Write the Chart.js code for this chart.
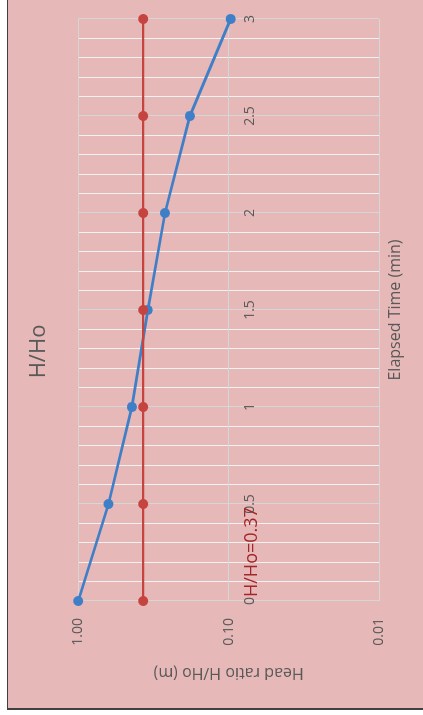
<!DOCTYPE html>
<html>
<head>
<meta charset="utf-8">
<script src="https://cdn.jsdelivr.net/npm/chart.js@4.4.1/dist/chart.umd.min.js"></script>
<style>
  html, body { margin: 0; padding: 0; overflow: hidden; background: #fff; }
  /* chart is drawn upright, then turned a quarter to the left like the reference */
  #turn {
    position: absolute; left: 0; top: 715px;
    width: 715px; height: 423px;
    transform-origin: 0 0; transform: rotate(-90deg);
  }
</style>
</head>
<body>
<div id="turn"><canvas id="headChart" width="715" height="423"></canvas></div>
<script>
// ---- data ----
const elapsedMin  = [0, 0.5, 1, 1.5, 2, 2.5, 3];
const headRatio   = [1.00, 0.63, 0.44, 0.345, 0.265, 0.181, 0.097];
const targetRatio = [0.37, 0.37, 0.37, 0.37, 0.37, 0.37, 0.37];
const targetLabel = 'H/Ho=0.37';
const ratioTicks  = [0.01, 0.1, 1];
const timeTicks   = [0, 0.5, 1, 1.5, 2, 2.5, 3];

const blue  = '#3F7FC8';
const red   = '#C5443F';
const grey  = '#595959';
const pink  = '#E6B8B7';

Chart.defaults.font.family = '"Open Sans", sans-serif';
Chart.defaults.color = grey;

const isLabelled = v => timeTicks.some(t => Math.abs(t - v) < 1e-6);

// pink plot background with the dark frame edge (top/left only show in the crop)
const frame = {
  id: 'frame',
  beforeDraw(chart) {
    const { ctx, width, height } = chart;
    ctx.save();
    ctx.fillStyle = '#fff';
    ctx.fillRect(0, 0, width, height);
    ctx.fillStyle = pink;
    ctx.fillRect(7, 8, width, height);
    ctx.fillStyle = '#404040';
    ctx.fillRect(5, 7, 2, height);
    ctx.fillRect(5, 7, width, 1);
    ctx.restore();
  }
};

// the red "H/Ho=0.37" text box
const noteText = {
  id: 'noteText',
  afterDraw(chart) {
    const { ctx, scales: { x, y } } = chart;
    ctx.save();
    ctx.font = '18px "Open Sans", sans-serif';
    ctx.fillStyle = '#A3262A';
    ctx.textBaseline = 'alphabetic';
    ctx.fillText(targetLabel, x.getPixelForValue(elapsedMin[0]) + 4, y.getPixelForValue(ratioTicks[1]) + 28);
    ctx.restore();
  }
};

new Chart(document.getElementById('headChart'), {
  type: 'line',
  data: {
    datasets: [
      {
        label: 'Target',
        data: elapsedMin.map((t, i) => ({ x: t, y: targetRatio[i] })),
        borderColor: red,
        backgroundColor: red,
        borderWidth: 2.25,
        pointRadius: 5,
        pointBorderWidth: 0,
        tension: 0,
        clip: false
      },
      {
        label: 'H/Ho',
        data: elapsedMin.map((t, i) => ({ x: t, y: headRatio[i] })),
        borderColor: blue,
        backgroundColor: blue,
        borderWidth: 2.75,
        pointRadius: 5,
        pointBorderWidth: 0,
        tension: 0,
        clip: false
      }
    ]
  },
  options: {
    responsive: false,
    animation: false,
    layout: { padding: { left: 31, right: 19, top: 0, bottom: 0 } },
    plugins: {
      legend: { display: false },
      tooltip: { enabled: false },
      title: {
        display: true,
        text: 'H/Ho',
        color: grey,
        font: { size: 22, weight: 'normal' },
        padding: { top: 25.8, bottom: 26.1 }
      }
    },
    scales: {
      x: {
        type: 'linear',
        min: 0,
        max: 3,
        position: { y: 0.1 },
        border: { display: false },
        grid: {
          drawTicks: false,
          lineWidth: 1,
          color: ctx => (ctx.tick && isLabelled(ctx.tick.value)) ? '#D6D6D6' : '#F2F2F2'
        },
        ticks: {
          stepSize: 0.1,
          autoSkip: false,
          maxRotation: 0,
          minRotation: 0,
          padding: 13,
          font: { size: 14 },
          callback: v => isLabelled(v) ? String(Math.round(v * 10) / 10) : ''
        }
      },
      xTitle: {
        type: 'linear',
        position: 'bottom',
        min: 0,
        max: 3,
        border: { display: false },
        grid: { display: false, drawTicks: false },
        ticks: { display: false },
        title: {
          display: true,
          text: 'Elapsed Time (min)',
          font: { size: 16 },
          padding: { top: 6, bottom: 18.4 }
        },
        afterFit: s => { s.height = 44; }
      },
      y: {
        type: 'logarithmic',
        min: 0.01,
        max: 1,
        border: { display: false },
        grid: { drawTicks: false, color: '#D6D6D6', lineWidth: 1 },
        afterBuildTicks: s => { s.ticks = ratioTicks.map(v => ({ value: v })); },
        ticks: {
          padding: 17,
          font: { size: 14 },
          callback: v => Number(v).toFixed(2)
        },
        title: {
          display: true,
          text: 'Head ratio H/Ho (m)',
          font: { size: 16 },
          padding: { top: 1.9, bottom: 0 }
        },
        afterFit: s => { s.width = 83; }
      }
    }
  },
  plugins: [frame, noteText]
});
</script>
</body>
</html>
